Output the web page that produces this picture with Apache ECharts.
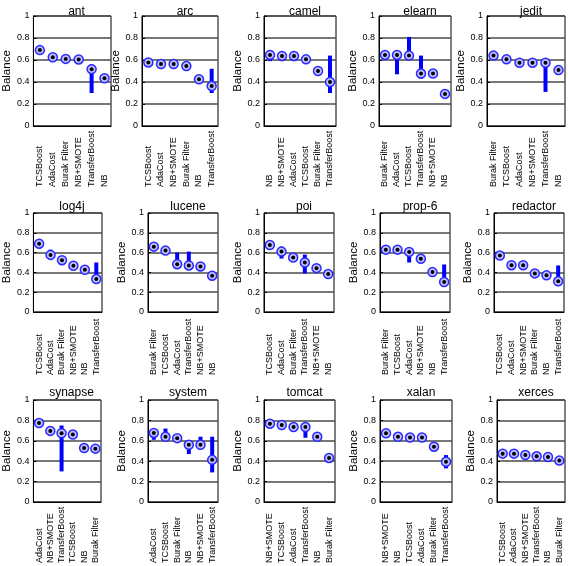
<!DOCTYPE html>
<html><head><meta charset="utf-8">
<script src="https://cdn.jsdelivr.net/npm/echarts@6/dist/echarts.min.js"></script>
<style>html,body{margin:0;padding:0;background:#fff}#c{width:568px;height:566px}</style>
</head><body><div id="c"></div>
<script>
// ---- data ----
const panelNames = ['ant','arc','camel','elearn','jedit','log4j','lucene','poi','prop-6','redactor','synapse','system','tomcat','xalan','xerces'];
const yTicks = [0, 0.2, 0.4, 0.6, 0.8, 1];

const ant_cats = ['TCSBoost','AdaCost','Burak Filter','NB+SMOTE','TransferBoost','NB'];
const ant_mean = [0.69,0.625,0.61,0.605,0.517,0.434];
const ant_low  = [null,0.62,null,null,0.30,null];
const ant_high = [null,0.66,null,null,0.56,null];

const arc_cats = ['TCSBoost','AdaCost','NB+SMOTE','Burak Filter','NB','TransferBoost'];
const arc_mean = [0.578,0.563,0.563,0.545,0.425,0.363];
const arc_low  = [null,null,null,null,null,0.30];
const arc_high = [null,null,null,null,null,0.52];

const camel_cats = ['NB','NB+SMOTE','AdaCost','TCSBoost','Burak Filter','TransferBoost'];
const camel_mean = [0.646,0.637,0.637,0.606,0.50,0.40];
const camel_low  = [0.59,0.59,0.59,0.59,null,0.30];
const camel_high = [0.66,0.65,0.65,0.62,null,0.64];

const elearn_cats = ['Burak Filter','AdaCost','TCSBoost','TransferBoost','NB+SMOTE','NB'];
const elearn_mean = [0.646,0.646,0.64,0.477,0.477,0.292];
const elearn_low  = [null,0.47,0.63,0.43,null,null];
const elearn_high = [null,0.65,0.81,0.64,null,null];

const jedit_cats = ['Burak Filter','TCSBoost','AdaCost','NB+SMOTE','TransferBoost','NB'];
const jedit_mean = [0.64,0.606,0.575,0.575,0.575,0.508];
const jedit_low  = [null,null,null,null,0.31,null];
const jedit_high = [null,null,null,null,0.58,null];

const log4j_cats = ['TCSBoost','AdaCost','Burak Filter','NB+SMOTE','NB','TransferBoost'];
const log4j_mean = [0.69,0.577,0.523,0.467,0.427,0.333];
const log4j_low  = [null,0.57,null,null,null,0.33];
const log4j_high = [null,0.63,null,null,null,0.50];

const lucene_cats = ['Burak Filter','TCSBoost','AdaCost','TransferBoost','NB+SMOTE','NB'];
const lucene_mean = [0.66,0.62,0.483,0.47,0.46,0.367];
const lucene_low  = [null,null,0.48,0.47,null,null];
const lucene_high = [null,null,0.60,0.61,null,null];

const poi_cats = ['TCSBoost','AdaCost','Burak Filter','TransferBoost','NB+SMOTE','NB'];
const poi_mean = [0.677,0.61,0.55,0.50,0.443,0.383];
const poi_low  = [null,0.54,null,0.39,null,null];
const poi_high = [null,0.66,null,0.58,null,null];

const prop6_cats = ['Burak Filter','TCSBoost','AdaCost','NB+SMOTE','NB','TransferBoost'];
const prop6_mean = [0.63,0.63,0.607,0.537,0.403,0.303];
const prop6_low  = [null,null,0.50,null,null,0.30];
const prop6_high = [null,null,0.61,null,null,0.48];

const redactor_cats = ['TCSBoost','AdaCost','NB+SMOTE','Burak Filter','NB','TransferBoost'];
const redactor_mean = [0.57,0.473,0.473,0.39,0.37,0.31];
const redactor_low  = [null,null,null,null,null,0.31];
const redactor_high = [null,null,null,null,null,0.47];

const synapse_cats = ['AdaCost','NB+SMOTE','TransferBoost','TCSBoost','NB','Burak Filter'];
const synapse_mean = [0.774,0.697,0.674,0.661,0.529,0.523];
const synapse_low  = [null,0.69,0.30,null,0.49,null];
const synapse_high = [null,0.74,0.75,null,0.54,null];

const system_cats = ['AdaCost','TCSBoost','Burak Filter','NB','NB+SMOTE','TransferBoost'];
const system_mean = [0.677,0.639,0.626,0.561,0.561,0.413];
const system_low  = [0.61,0.63,null,0.47,0.55,0.29];
const system_high = [0.68,0.72,null,0.57,0.64,0.64];

const tomcat_cats = ['NB+SMOTE','TCSBoost','AdaCost','TransferBoost','NB','Burak Filter'];
const tomcat_mean = [0.768,0.755,0.735,0.735,0.639,0.432];
const tomcat_low  = [null,null,null,0.63,null,null];
const tomcat_high = [null,null,null,0.74,null,null];

const xalan_cats = ['NB+SMOTE','NB','TCSBoost','AdaCost','Burak Filter','TransferBoost'];
const xalan_mean = [0.674,0.639,0.632,0.632,0.542,0.394];
const xalan_low  = [null,null,null,null,null,0.33];
const xalan_high = [null,null,null,null,null,0.46];

const xerces_cats = ['TCSBoost','AdaCost','NB+SMOTE','TransferBoost','NB','Burak Filter'];
const xerces_mean = [0.474,0.474,0.461,0.448,0.442,0.406];
const xerces_low  = [null,null,null,null,null,null];
const xerces_high = [null,null,null,null,null,null];

const panelData = [
  [ant_cats, ant_mean, ant_low, ant_high],
  [arc_cats, arc_mean, arc_low, arc_high],
  [camel_cats, camel_mean, camel_low, camel_high],
  [elearn_cats, elearn_mean, elearn_low, elearn_high],
  [jedit_cats, jedit_mean, jedit_low, jedit_high],
  [log4j_cats, log4j_mean, log4j_low, log4j_high],
  [lucene_cats, lucene_mean, lucene_low, lucene_high],
  [poi_cats, poi_mean, poi_low, poi_high],
  [prop6_cats, prop6_mean, prop6_low, prop6_high],
  [redactor_cats, redactor_mean, redactor_low, redactor_high],
  [synapse_cats, synapse_mean, synapse_low, synapse_high],
  [system_cats, system_mean, system_low, system_high],
  [tomcat_cats, tomcat_mean, tomcat_low, tomcat_high],
  [xalan_cats, xalan_mean, xalan_low, xalan_high],
  [xerces_cats, xerces_mean, xerces_low, xerces_high]
];

// ---- layout ----
const rowLayout = [
  {top: 16, height: 110, margin: 61, titleTop: 1, lefts: [32,142,264,379,487], rights: [111,218,336,451,565]},
  {top: 213, height: 99, margin: 63, titleTop: 196, lefts: [32,148,264,380,494], rights: [102,218,334,450,564]},
  {top: 400, height: 103, margin: 61, titleTop: 382, lefts: [32,148,264,380,497], rights: [101,218,335,452,565]}
];
const FONT = 'Liberation Sans, Arial, sans-serif';

const grids = [], xAxes = [], yAxes = [], series = [], titles = [];
panelNames.forEach((name, i) => {
  const r = Math.floor(i / 5), c = i % 5, L = rowLayout[r];
  const left = L.lefts[c], right = L.rights[c];
  const [cats, mean, low, high] = panelData[i];
  grids.push({left: left, top: L.top, width: right - left, height: L.height,
    show: true, borderColor: '#000', borderWidth: 1, backgroundColor: 'transparent'});
  titles.push({text: name, left: (left + right) / 2, top: L.titleTop, textAlign: 'center',
    textStyle: {fontFamily: FONT, fontSize: 12, fontWeight: 'normal', color: '#000'}});
  xAxes.push({type: 'category', gridIndex: i, data: cats, boundaryGap: true,
    axisLine: {show: true, lineStyle: {color: '#000', width: 1}},
    axisTick: {show: false},
    axisLabel: {interval: 0, rotate: 90, align: 'left', verticalAlign: 'middle', margin: L.margin,
      fontFamily: FONT, fontSize: 9, color: '#000'},
    splitLine: {show: false}});
  yAxes.push({type: 'value', gridIndex: i, min: 0, max: 1, interval: 0.2,
    name: 'Balance', nameLocation: 'middle', nameGap: 17,
    nameTextStyle: {fontFamily: FONT, fontSize: 11.5, color: '#000'},
    axisLine: {show: true, lineStyle: {color: '#000', width: 1}},
    axisTick: {show: true, inside: true, length: 3, lineStyle: {color: '#000'}},
    axisLabel: {fontFamily: FONT, fontSize: 9, color: '#000', margin: 4,
      formatter: v => String(+v.toFixed(1))},
    splitLine: {show: true, lineStyle: {color: '#4a4a4a', width: 1.5}}});
  const base = low.map(v => v == null ? '-' : v);
  const span = high.map((v, k) => (v == null || low[k] == null) ? '-' : +(v - low[k]).toFixed(3));
  series.push({type: 'bar', xAxisIndex: i, yAxisIndex: i, stack: 's' + i, barWidth: 4, silent: true,
    itemStyle: {color: 'rgba(0,0,0,0)'}, data: base});
  series.push({type: 'bar', xAxisIndex: i, yAxisIndex: i, stack: 's' + i, barWidth: 4, silent: true,
    itemStyle: {color: '#0000ff'}, data: span, z: 3});
  series.push({type: 'scatter', xAxisIndex: i, yAxisIndex: i, symbol: 'circle', symbolSize: 9, z: 4,
    itemStyle: {color: '#c0c0ff', borderColor: '#2a2aff', borderWidth: 1.5, opacity: 1}, data: mean});
  series.push({type: 'scatter', xAxisIndex: i, yAxisIndex: i, symbol: 'circle', symbolSize: 4, z: 5,
    itemStyle: {color: '#000', opacity: 1}, data: mean});
});

const chart = echarts.init(document.getElementById('c'), null, {renderer: 'canvas'});
chart.setOption({
  animation: false,
  backgroundColor: '#fff',
  title: titles,
  grid: grids,
  xAxis: xAxes,
  yAxis: yAxes,
  series: series
});
</script>
</body></html>
